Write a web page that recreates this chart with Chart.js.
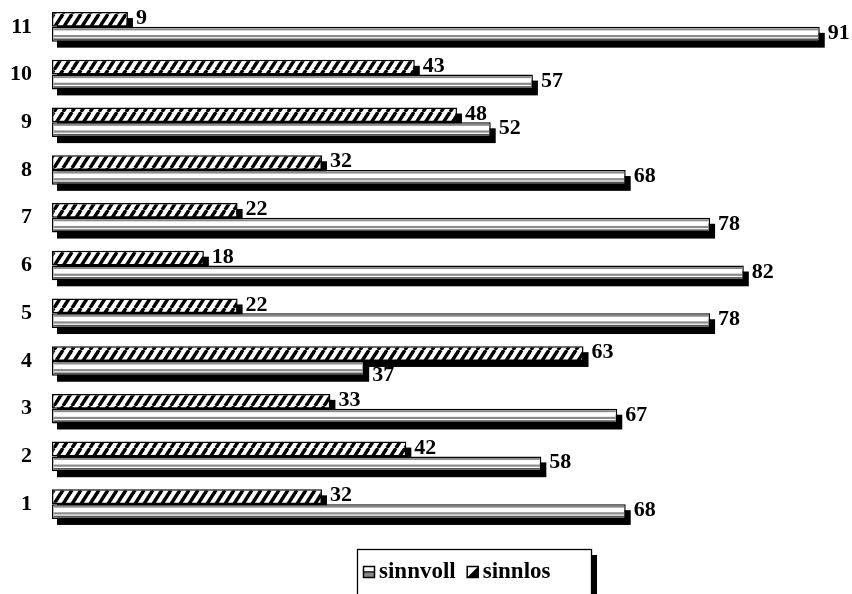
<!DOCTYPE html>
<html><head><meta charset="utf-8">
<script src="https://cdn.jsdelivr.net/npm/chart.js@4/dist/chart.umd.min.js"></script>
<style>html,body{margin:0;padding:0;background:#fff;overflow:hidden}</style>
</head><body>
<canvas id="c" width="852" height="594"></canvas>
<script>
// ---- data (bottom to top as in the picture) ----
const categories = ['1','2','3','4','5','6','7','8','9','10','11'];
const sinnvoll   = [68, 58, 67, 37, 78, 82, 78, 68, 52, 57, 91];
const sinnlos    = [32, 42, 33, 63, 22, 18, 22, 32, 48, 43, 9];
const seriesNames = ['sinnvoll', 'sinnlos'];

// chart lists categories top-to-bottom
const labelsTopDown = categories.slice().reverse();
const sinnvollTopDown = sinnvoll.slice().reverse();
const sinnlosTopDown = sinnlos.slice().reverse();

const FAMILY = '"Liberation Serif", "Times New Roman", serif';
const FONT = 'bold 22px ' + FAMILY;
const LEGEND_FONT = 'bold 23px ' + FAMILY;
const SHADOW_DX = 5, SHADOW_DY = 6;

const cv = document.getElementById('c');
const ctx0 = cv.getContext('2d');

function makeHatch(ctx) {
  const W = 9, H = 14;
  const c = document.createElement('canvas'); c.width = W; c.height = H;
  const g = c.getContext('2d');
  g.fillStyle = '#fff'; g.fillRect(0, 0, W, H);
  g.strokeStyle = '#000'; g.lineWidth = 3.4;
  for (const dx of [-W, 0, W]) { g.beginPath(); g.moveTo(dx, H); g.lineTo(dx + W, 0); g.stroke(); }
  return ctx.createPattern(c, 'repeat');
}
const hatch = makeHatch(ctx0);

function barRect(el) {
  const p = el.getProps(['x', 'y', 'base', 'height'], true);
  const l = Math.min(p.x, p.base), r = Math.max(p.x, p.base);
  return { l, r, t: p.y - p.height / 2, b: p.y + p.height / 2, y: p.y, end: p.x };
}

const decor = {
  id: 'decor',
  beforeDatasetsDraw(chart) {
    const ctx = chart.ctx; ctx.save(); ctx.fillStyle = '#000';
    chart.data.datasets.forEach((ds, i) => {
      chart.getDatasetMeta(i).data.forEach(el => {
        const r = barRect(el);
        ctx.fillRect(r.l + SHADOW_DX, r.t + SHADOW_DY, r.r - r.l, r.b - r.t);
      });
    });
    ctx.restore();
  },
  afterDatasetsDraw(chart) {
    const ctx = chart.ctx; ctx.save();
    // horizontal stripes of "sinnvoll"
    const iv = chart.data.datasets.findIndex(d => d.label === 'sinnvoll');
    chart.getDatasetMeta(iv).data.forEach(el => {
      const r = barRect(el);
      const h = r.b - r.t;
      ctx.fillStyle = '#8a8a8a';
      ctx.fillRect(r.l + 1.5, r.t + 1.5, r.r - r.l - 3, 2);
      ctx.fillRect(r.l + 1.5, r.t + h * 0.55, r.r - r.l - 3, 2.2);
      ctx.fillStyle = '#555';
      ctx.fillRect(r.l + 1.5, r.b - 3.2, r.r - r.l - 3, 1.7);
    });
    // value labels (shifted down if the bar above sticks out over the label)
    ctx.fillStyle = '#000'; ctx.font = FONT; ctx.textAlign = 'left'; ctx.textBaseline = 'middle';
    const metas = chart.data.datasets.map((d, i) => chart.getDatasetMeta(i));
    chart.data.datasets.forEach((ds, i) => {
      metas[i].data.forEach((el, j) => {
        const r = barRect(el);
        let dy = -1;
        if (i > 0) {
          const above = barRect(metas[i - 1].data[j]);
          if (above.r + SHADOW_DX > r.end + 6) dy = 7;
        }
        ctx.fillText(String(ds.data[j]), r.end + 8, r.y + dy);
      });
    });
    ctx.restore();
  },
  afterDraw(chart) {
    const ctx = chart.ctx; ctx.save();
    const bx = 357, by = 549, bw = 234, bh = 50;
    ctx.fillStyle = '#000';
    ctx.fillRect(bx + 6, by + 6, bw, bh);
    ctx.fillStyle = '#fff';
    ctx.fillRect(bx, by, bw, bh);
    ctx.strokeStyle = '#000'; ctx.lineWidth = 1.3;
    ctx.strokeRect(bx + 0.5, by + 0.5, bw, bh);
    const cy = 572;
    ctx.font = LEGEND_FONT; ctx.textBaseline = 'middle'; ctx.textAlign = 'left';
    // icon sinnvoll
    let ix = 363;
    ctx.fillStyle = '#fff'; ctx.fillRect(ix, cy - 6, 12, 12);
    ctx.fillStyle = '#888'; ctx.fillRect(ix, cy + 1, 12, 5);
    ctx.strokeStyle = '#000'; ctx.lineWidth = 1.5;
    ctx.strokeRect(ix + 0.5, cy - 5.5, 11, 11);
    ctx.beginPath(); ctx.moveTo(ix, cy); ctx.lineTo(ix + 12, cy); ctx.stroke();
    ctx.fillStyle = '#000';
    ctx.fillText(seriesNames[0], ix + 16, cy);
    // icon sinnlos
    ix = ix + 16 + ctx.measureText(seriesNames[0]).width + 11;
    ctx.fillStyle = '#fff'; ctx.fillRect(ix, cy - 6, 12, 12);
    ctx.fillStyle = '#000';
    ctx.beginPath(); ctx.moveTo(ix + 12, cy - 6); ctx.lineTo(ix + 12, cy + 6); ctx.lineTo(ix, cy + 6); ctx.closePath(); ctx.fill();
    ctx.strokeRect(ix + 0.5, cy - 5.5, 11, 11);
    ctx.fillText(seriesNames[1], ix + 16, cy);
    ctx.restore();
  }
};

new Chart(cv, {
  type: 'bar',
  data: {
    labels: labelsTopDown,
    datasets: [
      { label: 'sinnlos', data: sinnlosTopDown, backgroundColor: hatch, borderColor: '#000', borderWidth: 1.5, borderSkipped: false },
      { label: 'sinnvoll', data: sinnvollTopDown, backgroundColor: '#fff', borderColor: '#000', borderWidth: 1.5, borderSkipped: false }
    ]
  },
  options: {
    indexAxis: 'y',
    responsive: false,
    animation: false,
    devicePixelRatio: 1,
    categoryPercentage: 0.62,
    barPercentage: 1,
    layout: { padding: { top: 3, bottom: 66, right: 12, left: 0 } },
    plugins: { legend: { display: false }, tooltip: { enabled: false } },
    scales: {
      x: { display: false, min: 0, max: 93.4 },
      y: {
        grid: { display: false, drawTicks: false }, border: { display: false },
        ticks: { color: '#000', font: { family: FAMILY, size: 22, weight: 'bold' }, padding: 20 },
        afterFit(s) { s.width = 52; s.paddingTop = 0; s.paddingBottom = 0; }
      }
    }
  },
  plugins: [decor]
});
</script>
</body></html>
